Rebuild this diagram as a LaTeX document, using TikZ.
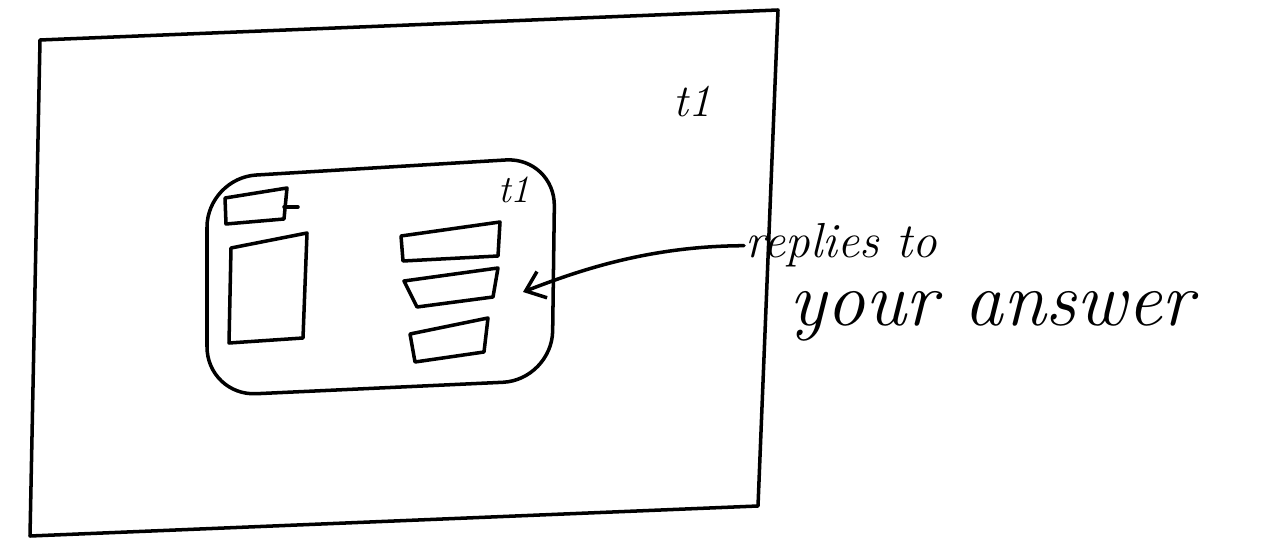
\documentclass[tikz,border=0pt]{standalone}
\usetikzlibrary{arrows.meta}
\begin{document}
\begin{tikzpicture}[x=0.02cm,y=-0.02cm,line width=2pt,line join=round,line cap=round,
    every node/.style={inner sep=1.5pt},
    hand/.style={font=\itshape}]
      \useasboundingbox (0,0) rectangle (1266,543);

      % outer frame
      \coordinate (F1) at (40,40);
      \coordinate (F2) at (778,10);
      \coordinate (F3) at (758,506);
      \coordinate (F4) at (30,536);
      \draw (F1) -- (F2) -- (F3) -- (F4) -- cycle;
      \node[hand,font=\itshape\fontsize{26}{28}\selectfont] (t1) at (692,102) {t1};

      % inner box
      \draw[rounded corners=28pt] (207,178) -- (555,157) -- (552,380) -- (207,396) -- cycle;
      \node[hand,font=\itshape\fontsize{22}{24}\selectfont] (t2) at (514,190) {t1};

      % left widgets
      \draw (225,198) -- (287,188) -- (284,219) -- (226,224) -- cycle;
      \draw (284,207) -- (298,207);
      \draw (231,248) -- (307,233) -- (303,338) -- (229,343) -- cycle;

      % right list
      \draw (401,236) -- (500,222) -- (498,256) -- (403,261) -- cycle;
      \draw (404,281) -- (498,268) -- (493,297) -- (417,307) -- cycle;
      \draw (410,334) -- (488,318) -- (484,352) -- (415,362) -- cycle;

      % label
      \node[hand,anchor=base west,inner sep=0pt,font=\itshape\fontsize{28}{30}\selectfont] (rep) at (744,258) {replies to};
      \node[hand,anchor=base west,inner sep=0pt,text height=1ex,font=\itshape\fontsize{44}{46}\selectfont] (ans) at (788,326) {your answer};
      \coordinate (hook) at (523,292);

      \draw[-{Straight Barb[length=10pt,width=16pt]}] (rep.west) .. controls (650,246) and (580,270) .. (hook);
    \end{tikzpicture}
\end{document}
